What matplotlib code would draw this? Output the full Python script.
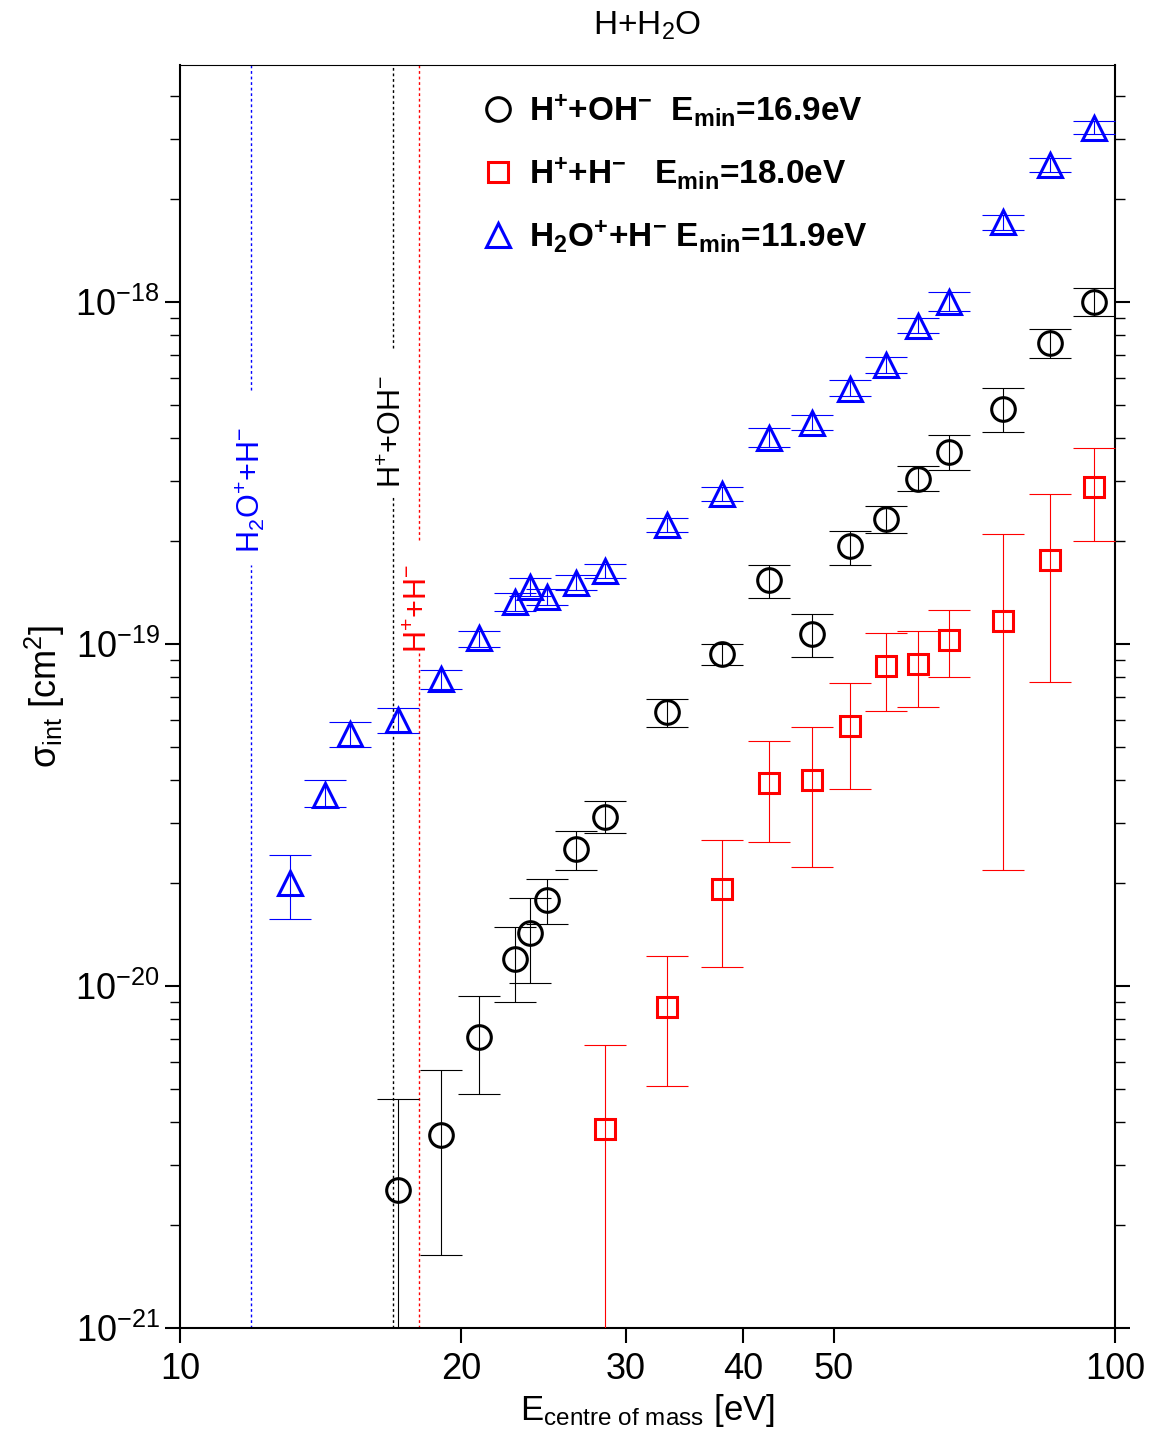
import numpy as np
import matplotlib.pyplot as plt
from matplotlib.lines import Line2D
from matplotlib.ticker import FixedLocator, NullFormatter

plt.rcParams['font.family'] = ['Liberation Sans', 'DejaVu Sans']
plt.rcParams['mathtext.fontset'] = 'custom'
plt.rcParams['mathtext.rm'] = 'Liberation Sans'
plt.rcParams['mathtext.it'] = 'Liberation Sans:italic'
plt.rcParams['mathtext.bf'] = 'Liberation Sans:bold'
plt.rcParams['mathtext.default'] = 'regular'

# ---- data: H2O+ + H- (blue triangles) ----
e_h2o = [13.1, 14.3, 15.2, 17.1, 19.0, 20.9, 22.8, 23.7, 24.7, 26.5, 28.5,
         33.2, 38.0, 42.7, 47.4, 52.1, 56.9, 61.5, 66.4, 75.9, 85.2, 95.0]
s_h2o = [2.0e-20, 3.62e-20, 5.46e-20, 6.0e-20, 7.9e-20, 1.04e-19, 1.33e-19,
         1.47e-19, 1.37e-19, 1.51e-19, 1.63e-19, 2.23e-19, 2.75e-19, 4.0e-19,
         4.43e-19, 5.57e-19, 6.54e-19, 8.51e-19, 1.0e-18, 1.71e-18, 2.52e-18,
         3.23e-18]
lo_h2o = [1.57e-20, 3.34e-20, 5.0e-20, 5.5e-20, 7.4e-20, 9.8e-20, 1.25e-19,
          1.38e-19, 1.30e-19, 1.44e-19, 1.56e-19, 2.13e-19, 2.62e-19, 3.77e-19,
          4.22e-19, 5.3e-19, 6.2e-19, 8.1e-19, 9.4e-19, 1.62e-18, 2.4e-18,
          3.1e-18]
hi_h2o = [2.42e-20, 4.0e-20, 5.9e-20, 6.5e-20, 8.4e-20, 1.09e-19, 1.41e-19,
          1.56e-19, 1.45e-19, 1.59e-19, 1.71e-19, 2.34e-19, 2.88e-19, 4.28e-19,
          4.66e-19, 5.93e-19, 6.9e-19, 8.99e-19, 1.07e-18, 1.8e-18, 2.63e-18,
          3.38e-18]

# ---- data: H+ + OH- (black circles) ----
e_oh = [17.1, 19.0, 20.9, 22.8, 23.7, 24.7, 26.5, 28.5, 33.2, 38.0, 42.7,
        47.4, 52.1, 56.9, 61.5, 66.4, 75.9, 85.2, 95.0]
s_oh = [2.53e-21, 3.67e-21, 7.09e-21, 1.2e-20, 1.43e-20, 1.78e-20, 2.52e-20,
        3.12e-20, 6.33e-20, 9.35e-20, 1.54e-19, 1.07e-19, 1.93e-19, 2.32e-19,
        3.04e-19, 3.64e-19, 4.87e-19, 7.59e-19, 1.0e-18]
lo_oh = [5.0e-22, 1.64e-21, 4.83e-21, 8.98e-21, 1.02e-20, 1.52e-20, 2.18e-20,
         2.80e-20, 5.72e-20, 8.7e-20, 1.36e-19, 9.16e-20, 1.70e-19, 2.11e-19,
         2.80e-19, 3.23e-19, 4.17e-19, 6.86e-19, 9.1e-19]
hi_oh = [4.67e-21, 5.68e-21, 9.35e-21, 1.49e-20, 1.81e-20, 2.05e-20, 2.84e-20,
         3.47e-20, 6.9e-20, 1.0e-19, 1.70e-19, 1.22e-19, 2.14e-19, 2.53e-19,
         3.31e-19, 4.08e-19, 5.6e-19, 8.34e-19, 1.10e-18]

# ---- data: H+ + H- (red squares) ----
e_hh = [28.5, 33.2, 38.0, 42.7, 47.4, 52.1, 56.9, 61.5, 66.4, 75.9, 85.2, 95.0]
s_hh = [3.82e-21, 8.68e-21, 1.92e-20, 3.92e-20, 4.0e-20, 5.76e-20, 8.62e-20,
        8.74e-20, 1.03e-19, 1.17e-19, 1.76e-19, 2.88e-19]
lo_hh = [5.0e-22, 5.1e-21, 1.14e-20, 2.64e-20, 2.23e-20, 3.77e-20, 6.37e-20,
         6.54e-20, 8.01e-20, 2.18e-20, 7.74e-20, 2.0e-19]
hi_hh = [6.72e-21, 1.22e-20, 2.67e-20, 5.2e-20, 5.72e-20, 7.69e-20, 1.08e-19,
         1.09e-19, 1.26e-19, 2.10e-19, 2.75e-19, 3.74e-19]

# thresholds (E_min), their labels and the gap left in the line for the label
thresholds = [11.9, 16.9, 18.0]
thr_labels = [r'H$_2$O$^{\mathrm{+}}$+H$^{\mathrm{-}}$',
              r'H$^{\mathrm{+}}$+OH$^{\mathrm{-}}$',
              r'H$^{\mathrm{+}}$+H$^{\mathrm{-}}$']
thr_label_y = [2.82e-19, 4.17e-19, 1.27e-19]
thr_gap_top = [5.53e-19, 7.33e-19, 2.01e-19]
thr_gap_bot = [1.70e-19, 2.69e-19, 9.6e-20]
thr_colors = ['blue', 'black', 'red']

xticks = [10, 20, 30, 40, 50, 100]
yticks = [1e-21, 1e-20, 1e-19, 1e-18]
ymin, ymax = 1e-21, 4.93e-18

fig = plt.figure(figsize=(11.56, 14.30), dpi=100)
ax = fig.add_axes([0.1557, 0.0713, 0.9645 - 0.1557, 0.9545 - 0.0713])


def yerr(s, lo, hi):
    s = np.array(s)
    return [s - np.array(lo), np.array(hi) - s]


for xv, lab, ly, gt, gb, c in zip(thresholds, thr_labels, thr_label_y,
                                  thr_gap_top, thr_gap_bot, thr_colors):
    ax.vlines([xv, xv], [gt, ymin], [ymax, gb], color=c, lw=1,
              linestyles=[(0, (2, 2))], zorder=1)
    ax.text(xv, ly, lab, rotation=90, color=c, fontsize=22,
            ha='center', va='center', zorder=1.5)

series = [
    (e_oh, s_oh, lo_oh, hi_oh, 'o', 'black', 17),
    (e_hh, s_hh, lo_hh, hi_hh, 's', 'red', 15),
    (e_h2o, s_h2o, lo_h2o, hi_h2o, '^', 'blue', 17),
]
for ex, sy, lo, hi, mk, c, ms in series:
    cont = ax.errorbar(ex, sy, yerr=yerr(sy, lo, hi), fmt=mk, color=c,
                       ms=ms, mfc='none', ls='none', elinewidth=0.8,
                       capsize=15, capthick=0.8, zorder=3)
    cont.lines[0].set_markeredgewidth(2.2)

ax.set_xscale('log')
ax.set_yscale('log')
ax.set_xlim(10, 100)
ax.set_ylim(ymin, ymax)

ax.xaxis.set_major_locator(FixedLocator(xticks))
ax.xaxis.set_major_formatter(plt.FuncFormatter(lambda v, p: f'{v:g}'))
ax.xaxis.set_minor_locator(FixedLocator([]))
ax.yaxis.set_major_locator(FixedLocator(yticks))
minor_y = [m * 10.0 ** k for k in range(-21, -17) for m in range(2, 10)]
ax.yaxis.set_minor_locator(FixedLocator(minor_y))
ax.yaxis.set_minor_formatter(NullFormatter())

ax.tick_params(axis='both', which='major', labelsize=26, direction='out',
               length=11, width=1.5)
ax.tick_params(axis='y', which='minor', direction='out', length=7, width=1)
ax.tick_params(axis='y', which='both', right=True)
ax.tick_params(axis='x', which='both', top=False, pad=6)
for side in ['left', 'bottom', 'right']:
    ax.spines[side].set_linewidth(1.5)
ax.spines['top'].set_linewidth(0.8)

ax.set_xlabel('E$_{centre\\ of\\ mass}$ [eV]', fontsize=25, labelpad=4)
ax.set_ylabel(r'$\sigma_{int}$ [cm$^2$]', fontsize=26, labelpad=6)
ax.set_title('H+H$_2$O', fontsize=24, pad=22)

handles = [Line2D([], [], ls='none', marker=mk, color=c, mfc='none', ms=ms,
                  mew=2.2) for _, _, _, _, mk, c, ms in series]
labels = [
    r'H$^{\mathbf{+}}$+OH$^{\mathbf{-}}$  E$_{\mathbf{min}}$=16.9eV',
    r'H$^{\mathbf{+}}$+H$^{\mathbf{-}}$   E$_{\mathbf{min}}$=18.0eV',
    r'H$_{\mathbf{2}}$O$^{\mathbf{+}}$+H$^{\mathbf{-}}$ E$_{\mathbf{min}}$=11.9eV',
]
ax.legend(handles, labels, loc='upper left', bbox_to_anchor=(0.308, 0.989),
          frameon=False, prop=dict(size=24, weight='bold'),
          handletextpad=0.42, labelspacing=0.8, handlelength=1.0,
          borderaxespad=0)

fig.savefig('out.png', dpi=100)
